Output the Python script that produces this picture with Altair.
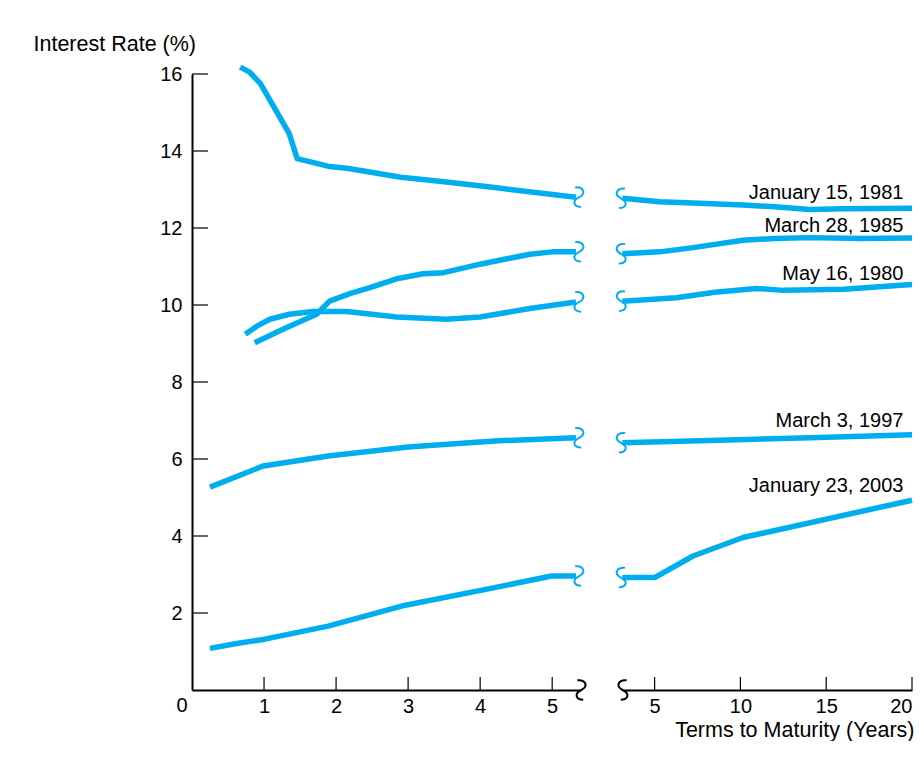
import altair as alt
import pandas as pd

BLUE = "#00aeef"
FONT = "Liberation Sans"

# ---- short-term panel (0-5 years) ----
jan81_sx = [0.67, 0.8, 0.95, 1.15, 1.35, 1.46, 1.9, 2.15, 2.9, 3.5, 4.2, 5.33]
jan81_sy = [16.18, 16.05, 15.75, 15.1, 14.45, 13.8, 13.6, 13.55, 13.32, 13.2, 13.05, 12.8]
mar85_sx = [0.87, 1.3, 1.73, 1.91, 2.2, 2.47, 2.84, 3.21, 3.49, 4.0, 4.69, 5.0, 5.33]
mar85_sy = [9.02, 9.4, 9.76, 10.1, 10.3, 10.45, 10.68, 10.81, 10.84, 11.06, 11.32, 11.38, 11.38]
may80_sx = [0.74, 0.9, 1.08, 1.35, 1.68, 2.15, 2.84, 3.53, 4.0, 4.69, 5.33]
may80_sy = [9.24, 9.45, 9.63, 9.76, 9.83, 9.83, 9.69, 9.63, 9.69, 9.91, 10.08]
mar97_sx = [0.25, 0.99, 1.89, 3.0, 4.2, 5.33]
mar97_sy = [5.27, 5.82, 6.08, 6.31, 6.47, 6.55]
jan03_sx = [0.25, 0.6, 1.01, 1.89, 2.91, 4.2, 4.99, 5.33]
jan03_sy = [1.08, 1.2, 1.32, 1.66, 2.18, 2.66, 2.96, 2.96]

# ---- long-term panel (5-20 years) ----
jan81_lx = [3.12, 5.3, 7.6, 10.15, 12.0, 14.05, 16.0, 20.0]
jan81_ly = [12.77, 12.68, 12.64, 12.6, 12.55, 12.48, 12.5, 12.51]
mar85_lx = [3.12, 5.3, 7.24, 10.15, 12.0, 14.05, 17.0, 20.0]
mar85_ly = [11.33, 11.38, 11.49, 11.68, 11.73, 11.75, 11.73, 11.74]
may80_lx = [3.12, 6.27, 8.5, 10.94, 12.49, 16.0, 20.0]
may80_ly = [10.1, 10.19, 10.33, 10.43, 10.38, 10.41, 10.53]
mar97_lx = [3.12, 8.2, 14.05, 20.0]
mar97_ly = [6.42, 6.48, 6.55, 6.63]
jan03_lx = [3.12, 5.0, 7.24, 10.15, 20.0]
jan03_ly = [2.92, 2.92, 3.48, 3.96, 4.93]

series_names = ["January 15, 1981", "March 28, 1985", "May 16, 1980",
                "March 3, 1997", "January 23, 2003"]
label_x = [19.5, 19.5, 19.5, 19.5, 19.5]
label_y = [12.76, 11.9, 10.65, 6.82, 5.14]

short_ticks = [1, 2, 3, 4, 5]
long_ticks = [5, 10, 15, 20]
y_ticks = [2, 4, 6, 8, 10, 12, 14, 16]

short_sets = [(jan81_sx, jan81_sy), (mar85_sx, mar85_sy), (may80_sx, may80_sy),
              (mar97_sx, mar97_sy), (jan03_sx, jan03_sy)]
long_sets = [(jan81_lx, jan81_ly), (mar85_lx, mar85_ly), (may80_lx, may80_ly),
             (mar97_lx, mar97_ly), (jan03_lx, jan03_ly)]


def to_df(sets):
    rows = []
    for name, (xs, ys) in zip(series_names, sets):
        for i, (a, b) in enumerate(zip(xs, ys)):
            rows.append({"x": a, "y": b, "s": name, "o": i})
    return pd.DataFrame(rows)


short_df = to_df(short_sets)
long_df = to_df(long_sets)
short_ends = pd.DataFrame({"x": [xs[-1] + 0.03 for xs, _ in short_sets],
                           "y": [ys[-1] for _, ys in short_sets]})
long_ends = pd.DataFrame({"x": [xs[0] - 0.02 for xs, _ in long_sets],
                          "y": [ys[0] for _, ys in long_sets]})
labels_df = pd.DataFrame({"x": label_x, "y": label_y, "t": series_names})

END_SHAPE = "M-0.3,-1 C0.5,-1.1 0.9,-0.4 0.1,0 C-0.7,0.4 -0.4,1 0.3,1"
START_SHAPE = "M0.3,-1 C-0.5,-1.1 -0.9,-0.4 -0.1,0 C0.7,0.4 0.4,1 -0.3,1"

H = 616
YSCALE = alt.Scale(domain=[0, 16], nice=False, zero=False)


def panel(df, ends, sq_shape, axis_sq_x, ticks, xdomain, width, xaxis, yaxis, extra=None):
    X = alt.X("x:Q", scale=alt.Scale(domain=xdomain, nice=False, zero=False), axis=xaxis)
    Y = alt.Y("y:Q", scale=YSCALE, axis=yaxis)
    lines = alt.Chart(df).mark_line(color=BLUE, strokeWidth=5.5, strokeJoin="round",
                                    strokeCap="butt").encode(
        x=X, y=Y, detail="s:N", order="o:Q")
    sq = alt.Chart(ends).mark_point(shape=sq_shape, size=380, filled=False, color=BLUE,
                                    strokeWidth=2, opacity=1).encode(x=X, y=Y)
    tick_rules = alt.Chart(pd.DataFrame({"x": ticks})).mark_rule(
        color="black", strokeWidth=1.2).encode(x=X, y=alt.value(H), y2=alt.value(H - 13))
    axis_sq = alt.Chart(pd.DataFrame({"x": [axis_sq_x], "y": [0]})).mark_point(
        shape=sq_shape, size=380, filled=False, color="black", strokeWidth=2,
        opacity=1).encode(x=X, y=Y)
    layers = [lines, sq, tick_rules, axis_sq]
    if extra is not None:
        layers += extra(X, Y)
    return alt.layer(*layers).properties(width=width, height=H)


def left_extra(X, Y):
    yt = alt.Chart(pd.DataFrame({"y": y_ticks})).mark_rule(
        color="black", strokeWidth=1.2).encode(y=Y, x=alt.value(0), x2=alt.value(16))
    zero = alt.Chart(pd.DataFrame({"x": [0], "y": [0], "t": ["0"]})).mark_text(
        dx=-10, dy=16, fontSize=20, font=FONT, color="black", baseline="middle").encode(
        x=X, y=Y, text="t:N")
    return [yt, zero]


def right_extra(X, Y):
    txt = alt.Chart(labels_df).mark_text(align="right", baseline="alphabetic",
                                         fontSize=20, font=FONT, color="black").encode(
        x=X, y=Y, text="t:N")
    return [txt]


left_xaxis = alt.Axis(title=None, values=short_ticks, ticks=False, tickSize=0,
                      labelPadding=16, labelBaseline="middle", domainWidth=2,
                      grid=False)
left_yaxis = alt.Axis(title="Interest Rate (%)", values=y_ticks, ticks=False, tickSize=0,
                      labelPadding=10, domainWidth=2, grid=False, titleAngle=0,
                      titleX=-159, titleY=-30, titleAlign="left", titleBaseline="middle",
                      titleFontSize=21.5)
right_xaxis = alt.Axis(title="Terms to Maturity (Years)", values=long_ticks, ticks=False,
                       tickSize=0, labelPadding=16, labelBaseline="middle", domainWidth=2,
                       grid=False, titleX=292, titleY=40, titleAlign="right",
                       titleBaseline="middle", titleFontSize=21.5)

left = panel(short_df, short_ends, END_SHAPE, 5.39, short_ticks, [0, 5.4], 389,
             left_xaxis, left_yaxis, left_extra)
right = panel(long_df, long_ends, START_SHAPE, 3.2, long_ticks, [3.1, 20], 290,
              right_xaxis, None, right_extra)

chart = alt.hconcat(left, right, spacing=41, bounds="flush").properties(
    padding={"left": 25, "top": 25, "right": 0, "bottom": 0}
).configure_view(stroke=None).configure_axis(
    labelFont=FONT, titleFont=FONT, labelFontSize=20, titleFontSize=20,
    labelColor="black", titleColor="black", domainColor="black",
    titleFontWeight="normal", grid=False
)

chart.save("out.html", embed_options={"renderer": "svg", "actions": False})
